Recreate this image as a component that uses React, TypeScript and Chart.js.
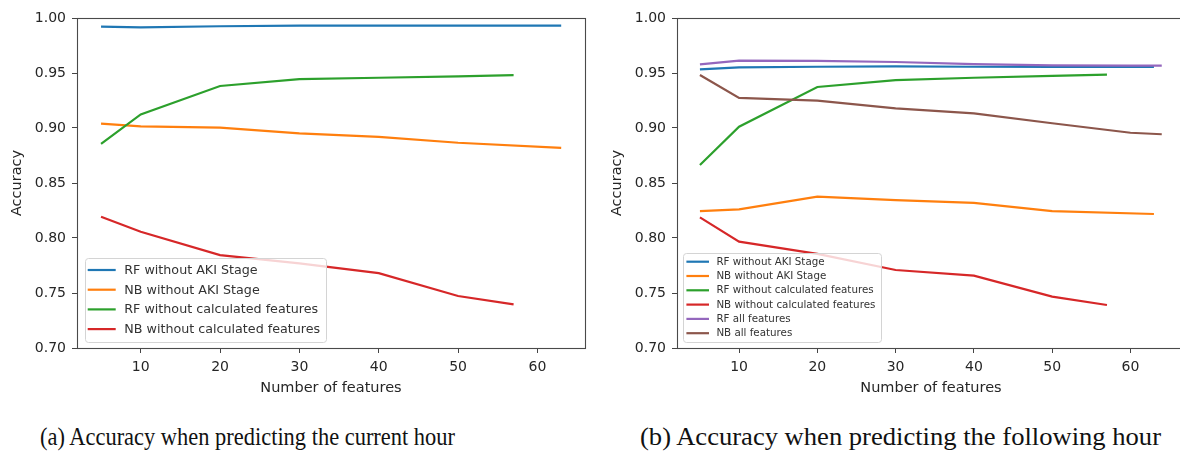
import React, { useEffect, useLayoutEffect, useRef } from "react";
import { Chart, registerables } from "chart.js";

Chart.register(...registerables);

// ---------- data ----------
const xTickValues = [10, 20, 30, 40, 50, 60];
const yTickValues = [0.7, 0.75, 0.8, 0.85, 0.9, 0.95, 1.0];

const seriesLabels = [
  "RF without AKI Stage",
  "NB without AKI Stage",
  "RF without calculated features",
  "NB without calculated features",
  "RF all features",
  "NB all features",
];
const seriesColors = ["#1f77b4", "#ff7f0e", "#2ca02c", "#d62728", "#9467bd", "#8c564b"];

// (a) current hour
const aLongX = [5, 10, 20, 30, 40, 50, 63];
const aShortX = [5, 10, 20, 30, 40, 50, 57];
const aRfNoAki = [0.9921, 0.9915, 0.9925, 0.993, 0.993, 0.993, 0.993];
const aNbNoAki = [0.904, 0.9015, 0.9003, 0.8952, 0.892, 0.8866, 0.882];
const aRfNoCalc = [0.8855, 0.9124, 0.9382, 0.9445, 0.9457, 0.947, 0.948];
const aNbNoCalc = [0.8194, 0.8057, 0.7845, 0.777, 0.768, 0.7473, 0.7397];

// (b) following hour
const bLongX = [5, 10, 20, 30, 40, 50, 63];
const bShortX = [5, 10, 20, 30, 40, 50, 57];
const bAllX = [5, 10, 20, 30, 40, 50, 60, 64];
const bRfNoAki = [0.9533, 0.9552, 0.9557, 0.956, 0.9557, 0.9555, 0.9555];
const bNbNoAki = [0.8245, 0.826, 0.8376, 0.8345, 0.832, 0.8245, 0.8218];
const bRfNoCalc = [0.8664, 0.9012, 0.9373, 0.9436, 0.9457, 0.9473, 0.9485];
const bNbNoCalc = [0.8188, 0.7967, 0.7855, 0.7709, 0.7658, 0.7467, 0.7391];
const bRfAll = [0.9579, 0.9612, 0.961, 0.96, 0.958, 0.957, 0.9567, 0.9567];
const bNbAll = [0.9482, 0.9273, 0.9248, 0.9179, 0.9133, 0.9043, 0.8957, 0.8943];

const captionA = "(a) Accuracy when predicting the current hour";
const captionB = "(b) Accuracy when predicting the following hour";

// ---------- helpers ----------
const FONT = '"DejaVu Sans", "Noto Sans", sans-serif';

const zip = (xs: number[], ys: number[]) => xs.map((x, i) => ({ x, y: ys[i] }));

const makeDatasets = (series: { xs: number[]; ys: number[]; idx: number }[]) =>
  series.map((s, i) => ({
    label: seriesLabels[s.idx],
    data: zip(s.xs, s.ys),
    borderColor: seriesColors[s.idx],
    backgroundColor: seriesColors[s.idx],
    borderWidth: 2.2,
    pointRadius: 0,
    pointHoverRadius: 0,
    tension: 0,
    fill: false,
    order: series.length - i,
  }));

const framePlugin = {
  id: "frame",
  afterDatasetsDraw(chart: any) {
    const { ctx, chartArea } = chart;
    ctx.save();
    ctx.strokeStyle = "#4a4a4a";
    ctx.lineWidth = 1.1;
    ctx.strokeRect(
      Math.round(chartArea.left) + 0.5,
      Math.round(chartArea.top) + 0.5,
      Math.round(chartArea.right - chartArea.left),
      Math.round(chartArea.bottom - chartArea.top)
    );
    ctx.restore();
  },
};

const boxLegendPlugin = {
  id: "boxLegend",
  afterDraw(chart: any, _args: any, o: any) {
    const { ctx, chartArea } = chart;
    const items = chart.data.datasets;
    ctx.save();
    ctx.font = `${o.fontSize}px ${FONT}`;
    const textW = Math.max(...items.map((d: any) => ctx.measureText(d.label).width));
    const w = o.padLeft + o.handle + o.gap + textW + o.padRight;
    const h = o.height;
    const x = chartArea.left + o.offsetX;
    const y = chartArea.bottom - o.offsetBottom - h;
    ctx.beginPath();
    ctx.roundRect(Math.round(x) + 0.5, Math.round(y) + 0.5, Math.round(w), Math.round(h), 3);
    ctx.fillStyle = "rgba(255,255,255,0.8)";
    ctx.fill();
    ctx.strokeStyle = "#d4d4d4";
    ctx.lineWidth = 1;
    ctx.stroke();
    items.forEach((d: any, i: number) => {
      const cy = y + o.firstRow + i * o.rowH;
      ctx.beginPath();
      ctx.moveTo(x + o.padLeft, cy);
      ctx.lineTo(x + o.padLeft + o.handle, cy);
      ctx.strokeStyle = d.borderColor;
      ctx.lineWidth = 2.2;
      ctx.stroke();
      ctx.fillStyle = "#333333";
      ctx.textBaseline = "middle";
      ctx.textAlign = "left";
      ctx.fillText(d.label, x + o.padLeft + o.handle + o.gap, cy + 0.5);
    });
    ctx.restore();
  },
};

const makeConfig = (datasets: any[], xMin: number, xMax: number, legend: any): any => ({
  type: "line",
  data: { datasets },
  plugins: [framePlugin, boxLegendPlugin],
  options: {
    responsive: false,
    animation: false,
    devicePixelRatio: 1,
    layout: { padding: { left: 0, top: 18, right: 15, bottom: 2 } },
    plugins: {
      legend: { display: false },
      tooltip: { enabled: false },
      boxLegend: legend,
    },
    scales: {
      x: {
        type: "linear",
        min: xMin,
        max: xMax,
        afterBuildTicks: (axis: any) => {
          axis.ticks = xTickValues.map((value) => ({ value }));
        },
        afterFit: (axis: any) => {
          axis.height = 50;
        },
        border: { display: false },
        grid: { display: true, drawOnChartArea: false, drawTicks: true, tickLength: 5, color: "#444" },
        ticks: {
          padding: 6,
          color: "#262626",
          font: { family: FONT, size: 14 },
          maxRotation: 0,
          callback: (v: any) => String(v),
        },
        title: {
          display: true,
          text: "Number of features",
          color: "#262626",
          font: { family: FONT, size: 14.5 },
          padding: { top: 0, bottom: 1 },
        },
      },
      y: {
        type: "linear",
        min: 0.7,
        max: 1.0,
        afterBuildTicks: (axis: any) => {
          axis.ticks = yTickValues.map((value) => ({ value }));
        },
        afterFit: (axis: any) => {
          axis.width = 77;
        },
        border: { display: false },
        grid: { display: true, drawOnChartArea: false, drawTicks: true, tickLength: 5, color: "#444" },
        ticks: {
          padding: 6,
          color: "#262626",
          font: { family: FONT, size: 14 },
          callback: (v: any) => Number(v).toFixed(2),
        },
        title: {
          display: true,
          text: "Accuracy",
          color: "#262626",
          font: { family: FONT, size: 14.5 },
          padding: { top: 8.3, bottom: 0 },
        },
      },
    },
  },
});

function LineChart({ config, left }: { config: any; left: number }) {
  const ref = useRef<HTMLCanvasElement | null>(null);
  useEffect(() => {
    if (!ref.current) return;
    const chart = new Chart(ref.current, config);
    return () => chart.destroy();
  }, [config]);
  return (
    <canvas
      ref={ref}
      width={600}
      height={400}
      style={{ position: "absolute", left, top: 0, width: 600, height: 400 }}
    />
  );
}

const configA = makeConfig(
  makeDatasets([
    { xs: aLongX, ys: aRfNoAki, idx: 0 },
    { xs: aLongX, ys: aNbNoAki, idx: 1 },
    { xs: aShortX, ys: aRfNoCalc, idx: 2 },
    { xs: aShortX, ys: aNbNoCalc, idx: 3 },
  ]),
  1.97,
  66.0,
  {
    fontSize: 12.7,
    offsetX: 8,
    offsetBottom: 5.7,
    height: 84,
    firstRow: 11.7,
    rowH: 19.7,
    padLeft: 2.7,
    handle: 28,
    gap: 8.6,
    padRight: 6,
  }
);

const configB = makeConfig(
  makeDatasets([
    { xs: bLongX, ys: bRfNoAki, idx: 0 },
    { xs: bLongX, ys: bNbNoAki, idx: 1 },
    { xs: bShortX, ys: bRfNoCalc, idx: 2 },
    { xs: bShortX, ys: bNbNoCalc, idx: 3 },
    { xs: bAllX, ys: bRfAll, idx: 4 },
    { xs: bAllX, ys: bNbAll, idx: 5 },
  ]),
  2.07,
  66.97,
  {
    fontSize: 10.3,
    offsetX: 6,
    offsetBottom: 5.3,
    height: 89.4,
    firstRow: 8.4,
    rowH: 14.3,
    padLeft: 3.4,
    handle: 22.6,
    gap: 7.4,
    padRight: 6,
  }
);

function Caption({ text, left, width }: { text: string; left: number; width: number }) {
  const ref = useRef<HTMLDivElement | null>(null);
  useLayoutEffect(() => {
    const el = ref.current;
    if (!el) return;
    el.style.transform = "none";
    const natural = el.getBoundingClientRect().width;
    if (natural > 0) el.style.transform = `scaleX(${width / natural})`;
  }, [text, width]);
  return (
    <div
      ref={ref}
      style={{
        position: "absolute",
        left,
        top: 424,
        fontFamily: '"Liberation Serif", "Times New Roman", serif',
        fontSize: 26,
        lineHeight: "26px",
        whiteSpace: "nowrap",
        color: "#111",
        transformOrigin: "left top",
      }}
    >
      {text}
    </div>
  );
}

export default function App() {
  return (
    <div
      style={{
        position: "absolute",
        left: 0,
        top: 0,
        width: 1180,
        height: 453,
        overflow: "hidden",
        background: "#ffffff",
      }}
    >
      <LineChart config={configA} left={0} />
      <LineChart config={configB} left={600} />
      <Caption text={captionA} left={40} width={415} />
      <Caption text={captionB} left={640} width={521} />
    </div>
  );
}
